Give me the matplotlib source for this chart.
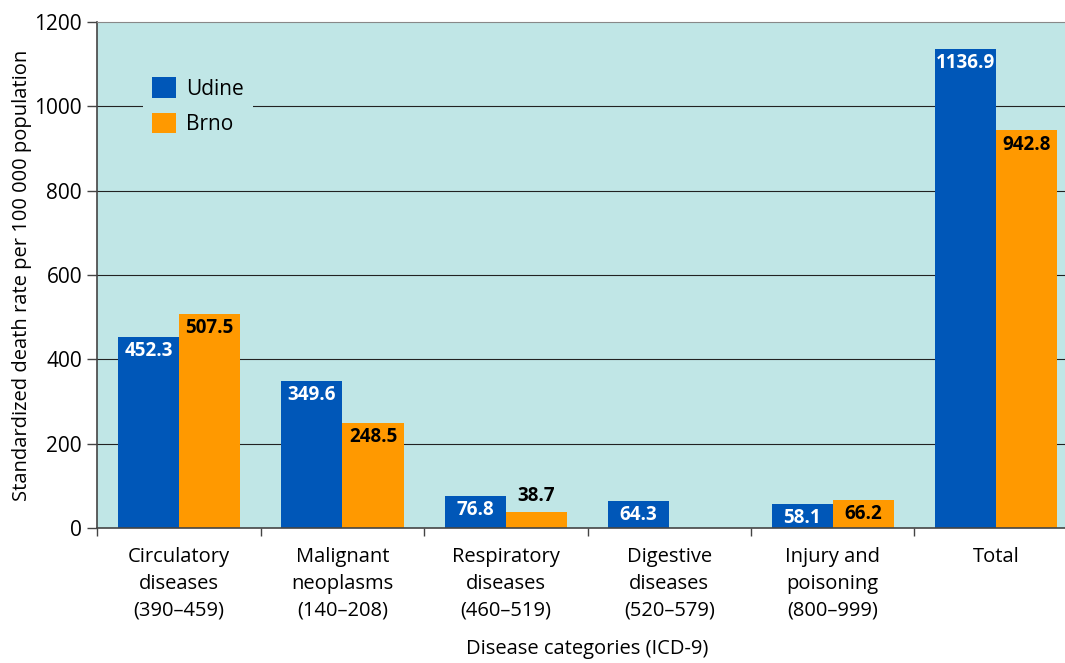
import matplotlib.pyplot as plt
import numpy as np

# death rates per 100 000, by ICD-9 group
categories = ["Circulatory\ndiseases\n(390\u2013459)",
              "Malignant\nneoplasms\n(140\u2013208)",
              "Respiratory\ndiseases\n(460\u2013519)",
              "Digestive\ndiseases\n(520\u2013579)",
              "Injury and\npoisoning\n(800\u2013999)",
              "Total"]
udine = [452.3, 349.6, 76.8, 64.3, 58.1, 1136.9]
brno = [507.5, 248.5, 38.7, np.nan, 66.2, 942.8]

BLUE = "#0057b8"
ORANGE = "#ff9900"
BG = "#c0e6e6"

plt.rcParams['font.family'] = ['Open Sans', 'DejaVu Sans']
plt.rcParams['font.size'] = 15

fig = plt.figure(figsize=(10.65, 6.63), dpi=100)
ax = fig.add_axes([0.0914, 0.2036, 0.9206, 0.7632])
ax.set_facecolor(BG)

x = np.arange(len(categories))
w = 0.374
b1 = ax.bar(x - w / 2, udine, w, color=BLUE, label="Udine", zorder=2)
b2 = ax.bar(x + w / 2, np.nan_to_num(brno), w, color=ORANGE, label="Brno", zorder=2)

# value labels, inside the top of the bar unless the bar is too short
for bars, vals, col in [(b1, udine, "white"), (b2, brno, "black")]:
    for r, v in zip(bars, vals):
        if np.isnan(v):
            continue
        cx = r.get_x() + r.get_width() / 2
        if v < 50:
            ax.annotate(f"{v:.1f}", (cx, v), xytext=(0, 4), textcoords="offset points",
                        ha="center", va="bottom", color=col, fontweight="bold",
                        fontsize=13.5, zorder=3)
        else:
            ax.annotate(f"{v:.1f}", (cx, v), xytext=(0, -3), textcoords="offset points",
                        ha="center", va="top", color=col, fontweight="bold",
                        fontsize=13.5, zorder=3)

ax.set_ylim(0, 1200)
ax.set_xlim(-0.5, len(categories) - 0.5)
ax.set_yticks(range(0, 1201, 200))
for yv in range(200, 1200, 200):
    ax.axhline(yv, color="#222222", lw=0.8, zorder=1)

ax.set_xticks(x, categories, linespacing=1.45, fontsize=14.5)
ax.set_xticks(np.arange(-0.5, len(categories), 1), minor=True)
ax.tick_params(axis="x", which="major", length=0, pad=14)
ax.tick_params(axis="x", which="minor", length=6, width=1, color="#444444", direction="out")
ax.tick_params(axis="y", length=7, width=1, color="#444444", pad=4)

for s in ["left", "bottom"]:
    ax.spines[s].set_color("#444444")
    ax.spines[s].set_linewidth(1.2)
ax.spines["top"].set_color("#888888")
ax.spines["right"].set_visible(False)

ax.set_ylabel("Standardized death rate per 100 000 population", fontsize=14.5, labelpad=2)
ax.set_xlabel("Disease categories (ICD-9)", fontsize=14.5, labelpad=13)

leg = ax.legend(loc="upper left", bbox_to_anchor=(0.036, 0.93), frameon=True,
                facecolor=BG, edgecolor="none", framealpha=1, fancybox=False,
                handlelength=1.15, handleheight=1.15, handletextpad=0.45,
                labelspacing=0.62, borderpad=0.45, fontsize=15)
leg.set_zorder(5)

fig.savefig("out.png", dpi=100)
